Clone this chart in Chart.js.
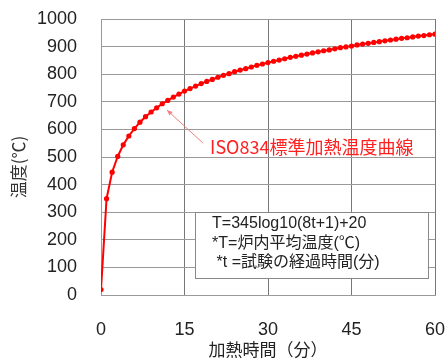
<!DOCTYPE html>
<html>
<head>
<meta charset="utf-8">
<script src="https://cdn.jsdelivr.net/npm/chart.js@4.4.0/dist/chart.umd.min.js"></script>
<style>
html,body{margin:0;padding:0;background:#fff;}
#wrap{width:445px;height:360px;}
</style>
</head>
<body>
<div id="wrap"><canvas id="c" width="445" height="360"></canvas></div>
<script>
const minutes = [0,1,2,3,4,5,6,7,8,9,10,11,12,13,14,15,16,17,18,19,20,21,22,23,24,25,26,27,28,29,30,31,32,33,34,35,36,37,38,39,40,41,42,43,44,45,46,47,48,49,50,51,52,53,54,55,56,57,58,59,60];
const temperature = [20,349,445,502,544,576,603,626,646,663,678,693,705,717,728,739,748,757,766,774,781,789,796,802,809,815,820,826,832,837,842,847,851,856,861,865,869,873,877,881,885,888,892,896,899,902,906,909,912,915,918,921,924,927,930,932,935,938,940,943,945];
const xTicks = [0,15,30,45,60];
const yTicks = [0,100,200,300,400,500,600,700,800,900,1000];
const seriesLabel = 'ISO834標準加熱温度曲線';
const xTitle = '加熱時間（分）';
const yTitle = '温度(℃)';
const formulaLines = ['T=345log10(8t+1)+20', '*T=炉内平均温度(℃)', ' *t =試験の経過時間(分)'];

const FONT = '"Liberation Sans", Arial, "Noto Sans CJK JP", sans-serif';
const CJK = '"Noto Sans CJK JP", "Liberation Sans", sans-serif';

const annot = {
  id: 'annot',
  afterDraw(chart) {
    const ctx = chart.ctx, xs = chart.scales.x, ys = chart.scales.y, ca = chart.chartArea;
    ctx.save();
    // y title
    ctx.save();
    ctx.translate(19, (ca.top + ca.bottom) / 2 + 10);
    ctx.rotate(-Math.PI / 2);
    ctx.fillStyle = '#333';
    ctx.font = '17px ' + CJK;
    ctx.textAlign = 'center';
    ctx.textBaseline = 'middle';
    ctx.fillText(yTitle, 0, 0);
    ctx.restore();

    // arrow
    const x1 = xs.getPixelForValue(18.3), y1 = ys.getPixelForValue(551);
    const x2 = xs.getPixelForValue(11.85), y2 = ys.getPixelForValue(670);
    ctx.strokeStyle = '#f08080';
    ctx.fillStyle = '#f08080';
    ctx.lineWidth = 1;
    ctx.beginPath(); ctx.moveTo(x1, y1); ctx.lineTo(x2, y2); ctx.stroke();
    const ang = Math.atan2(y2 - y1, x2 - x1);
    ctx.beginPath();
    ctx.moveTo(x2, y2);
    ctx.lineTo(x2 - 6 * Math.cos(ang - 0.4), y2 - 6 * Math.sin(ang - 0.4));
    ctx.lineTo(x2 - 6 * Math.cos(ang + 0.4), y2 - 6 * Math.sin(ang + 0.4));
    ctx.closePath(); ctx.fill();

    // label
    ctx.fillStyle = '#ff2020';
    ctx.font = '18px ' + CJK;
    ctx.textAlign = 'left';
    ctx.textBaseline = 'middle';
    ctx.fillText(seriesLabel, xs.getPixelForValue(19.6), ys.getPixelForValue(536));

    // formula box
    const bx1 = xs.getPixelForValue(16.9), bx2 = xs.getPixelForValue(58.7);
    const by1 = ys.getPixelForValue(301), by2 = ys.getPixelForValue(62);
    ctx.fillStyle = '#fff';
    ctx.fillRect(bx1, by1, bx2 - bx1, by2 - by1);
    ctx.strokeStyle = '#888';
    ctx.lineWidth = 1;
    ctx.strokeRect(Math.round(bx1) + 0.5, Math.round(by1) + 0.5, Math.round(bx2 - bx1), Math.round(by2 - by1));
    ctx.fillStyle = '#222';
    ctx.font = '16px ' + FONT;
    ctx.textBaseline = 'middle';
    formulaLines.forEach((t, i) => {
      ctx.fillText(t, bx1 + 17, by1 + 12 + i * 19.5);
    });
    ctx.restore();
  }
};

new Chart(document.getElementById('c'), {
  type: 'line',
  data: {
    labels: minutes,
    datasets: [{
      label: seriesLabel,
      data: minutes.map((m, i) => ({x: m, y: temperature[i]})),
      borderColor: '#ff0000',
      backgroundColor: '#ff0000',
      borderWidth: 2,
      pointRadius: 2.6,
      pointBorderWidth: 0,
      tension: 0
    }]
  },
  options: {
    responsive: false,
    animation: false,
    events: [],
    layout: {padding: {left: 0, right: 10, top: 19, bottom: 0}},
    plugins: {legend: {display: false}, tooltip: {enabled: false}},
    scales: {
      x: {
        type: 'linear', min: 0, max: 60,
        afterBuildTicks: s => { s.ticks = xTicks.map(v => ({value: v})); },
        afterFit: s => { s.height = 65; s.paddingLeft = 0; s.paddingRight = 0; },
        grid: {color: '#777', drawTicks: false},
        border: {color: '#999'},
        ticks: {padding: 24, color: '#222', font: {family: FONT, size: 18}, callback: v => String(v)},
        title: {display: true, text: xTitle, color: '#222', font: {family: CJK, size: 17}, padding: {top: 0, bottom: 0}}
      },
      y: {
        min: 0, max: 1000,
        afterBuildTicks: s => { s.ticks = yTicks.map(v => ({value: v})); },
        afterFit: s => { s.width = 101; s.paddingTop = 0; s.paddingBottom = 0; },
        grid: {color: '#999', drawTicks: false},
        border: {color: '#999'},
        ticks: {padding: 24, color: '#222', font: {family: FONT, size: 18}, callback: v => String(v)}
      }
    }
  },
  plugins: [annot]
});
</script>
</body>
</html>
